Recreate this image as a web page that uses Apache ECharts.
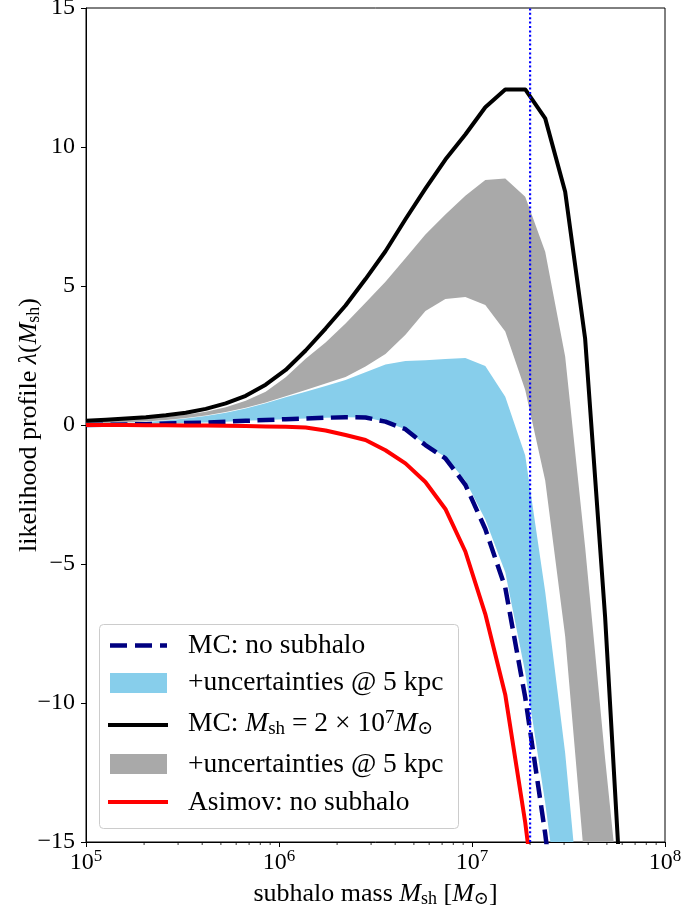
<!DOCTYPE html>
<html>
<head>
<meta charset="utf-8">
<title>likelihood profile</title>
<script src="https://cdn.jsdelivr.net/npm/echarts@6/dist/echarts.min.js"></script>
<style>
  html, body { margin: 0; padding: 0; background: #fff; overflow: hidden; }
  #chart { width: 683px; height: 915px; }
</style>
</head>
<body>
<div id="chart"></div>
<script>
// subhalo mass grid [M_sun]
var mass = [1.000e5, 1.269e5, 1.610e5, 2.043e5, 2.593e5, 3.290e5, 4.175e5, 5.298e5, 6.723e5, 8.531e5,
            1.083e6, 1.374e6, 1.743e6, 2.212e6, 2.807e6, 3.562e6, 4.520e6, 5.736e6, 7.279e6, 9.237e6,
            1.172e7, 1.487e7, 1.887e7, 2.395e7, 3.039e7, 3.857e7, 4.894e7, 6.210e7, 7.880e7, 1.000e8];

// MC: no subhalo (dashed) + band
var mcNoSub = [0, 0.01, 0.02, 0.03, 0.05, 0.07, 0.09, 0.12, 0.15, 0.18,
               0.21, 0.23, 0.26, 0.28, 0.27, 0.12, -0.15, -0.72, -1.2, -2.15,
               -3.74, -5.85, -9.8, -14.7, -20.5];
var mcNoSubLow = [0, 0.01, 0.02, 0.03, 0.05, 0.07, 0.09, 0.12, 0.15, 0.18,
                  0.21, 0.23, 0.26, 0.28, 0.27, 0.12, -0.15, -0.7, -1.15, -2.0,
                  -3.4, -5.3, -8.9, -13.6, -19, -25];
var mcNoSubHigh = [0.02, 0.04, 0.07, 0.11, 0.16, 0.23, 0.32, 0.44, 0.59, 0.78,
                   1.0, 1.2, 1.4, 1.62, 1.9, 2.18, 2.3, 2.33, 2.37, 2.41,
                   2.12, 1.02, -1.1, -6.0, -11.8, -19.5];

// MC: M_sh = 2e7 (black) + band
var mcSub = [0.15, 0.19, 0.23, 0.28, 0.35, 0.44, 0.58, 0.78, 1.05, 1.45,
             1.98, 2.68, 3.47, 4.3, 5.25, 6.25, 7.4, 8.5, 9.55, 10.45,
             11.43, 12.07, 12.07, 11.03, 8.39, 3.1, -6.9, -19.5];
var mcSubLow = [0.03, 0.06, 0.09, 0.13, 0.18, 0.25, 0.34, 0.47, 0.62, 0.81,
                1.03, 1.26, 1.49, 1.73, 2.1, 2.55, 3.25, 4.1, 4.53, 4.6,
                4.32, 3.36, 1.26, -2.0, -7.6, -16.0, -25, -30];
var mcSubHigh = [0.13, 0.16, 0.2, 0.24, 0.3, 0.37, 0.48, 0.64, 0.87, 1.2,
                 1.72, 2.38, 2.97, 3.65, 4.4, 5.15, 6.0, 6.85, 7.57, 8.25,
                 8.81, 8.87, 8.21, 6.23, 2.46, -4.4, -12.0, -19.0];

// Asimov: no subhalo (red)
var asimov = [0, 0, 0, -0.01, -0.01, -0.02, -0.02, -0.03, -0.04, -0.05,
              -0.06, -0.09, -0.2, -0.36, -0.54, -0.91, -1.38, -2.05, -3.02, -4.55,
              -6.8, -9.7, -14.3, -20];

var trueMass = 2e7;
var minorTicks = [2e5, 3e5, 4e5, 5e5, 6e5, 7e5, 8e5, 9e5,
                  2e6, 3e6, 4e6, 5e6, 6e6, 7e6, 8e6, 9e6,
                  2e7, 3e7, 4e7, 5e7, 6e7, 7e7, 8e7, 9e7];

var serif = '"Liberation Serif", "DejaVu Serif", serif';

function pairs(ys) {
  return ys.map(function(y, i) { return [mass[i], y]; });
}

var rich = {
  r: { fontFamily: serif, fontSize: 26, color: '#000' },
  i: { fontFamily: serif, fontSize: 26, fontStyle: 'italic', color: '#000' },
  s: { fontFamily: serif, fontSize: 18, color: '#000', padding: [10, 0, 0, 0] },
  p: { fontFamily: serif, fontSize: 18, color: '#000', padding: [0, 0, 12, 0] }
};
var legRich = {
  r: { fontFamily: serif, fontSize: 27.5, color: '#000' },
  i: { fontFamily: serif, fontSize: 27.5, fontStyle: 'italic', color: '#000' },
  s: { fontFamily: serif, fontSize: 19, color: '#000', padding: [10, 0, 0, 0] },
  p: { fontFamily: serif, fontSize: 19, color: '#000', padding: [0, 0, 12, 0] }
};

var myChart = echarts.init(document.getElementById('chart'));

// filled band between lo and hi, as one polygon through the axes
function band(lo, hi, color) {
  return {
    type: 'custom', silent: true, clip: true, z: 1,
    data: [[mass[0], lo[0]]],
    renderItem: function(params, api) {
      var pts = [];
      for (var i = 0; i < hi.length; i++) pts.push(api.coord([mass[i], hi[i]]));
      for (var j = lo.length - 1; j >= 0; j--) pts.push(api.coord([mass[j], lo[j]]));
      return { type: 'polygon', shape: { points: pts }, style: { fill: color, stroke: null } };
    }
  };
}

// legend, drawn by hand
var lx = 108, tx = 188;
var legendTexts = [
  { y: 646, text: '{r|MC: no subhalo}' },
  { y: 683, text: '{r|+uncertainties @ 5 kpc}' },
  { y: 724, text: '{r|MC: }{i|M}{s|sh}{r| = 2 × 10}{p|7}{i|M}{s|⊙}' },
  { y: 765, text: '{r|+uncertainties @ 5 kpc}' },
  { y: 803, text: '{r|Asimov: no subhalo}' }
];
var graphic = [
  { type: 'rect', shape: { x: 99.5, y: 624.5, width: 359, height: 204, r: 4 },
    style: { fill: 'rgba(255,255,255,0.8)', stroke: '#cccccc', lineWidth: 1 }, z: 10 },
  { type: 'line', shape: { x1: 110, y1: 645.5, x2: 167, y2: 645.5 },
    style: { stroke: '#000080', lineWidth: 4.5, lineDash: [17, 8] }, z: 11 },
  { type: 'rect', shape: { x: 110, y: 673, width: 57, height: 20 }, style: { fill: '#87ceeb' }, z: 11 },
  { type: 'line', shape: { x1: lx, y1: 725, x2: lx + 60, y2: 725 },
    style: { stroke: '#000', lineWidth: 4 }, z: 11 },
  { type: 'rect', shape: { x: 110, y: 754, width: 57, height: 20 }, style: { fill: '#a9a9a9' }, z: 11 },
  { type: 'line', shape: { x1: lx, y1: 802, x2: lx + 60, y2: 802 },
    style: { stroke: '#ff0000', lineWidth: 4 }, z: 11 }
];
legendTexts.forEach(function(t) {
  graphic.push({
    type: 'text', x: tx, y: t.y, z: 11,
    style: { text: t.text, rich: legRich, verticalAlign: 'middle', align: 'left' }
  });
});

var option = {
  animation: false,
  backgroundColor: '#fff',
  grid: {
    left: 86, right: 18, top: 8, bottom: 73, containLabel: false, outerBoundsMode: 'none',
    show: true, borderColor: '#000', borderWidth: 1
  },
  xAxis: {
    type: 'log', logBase: 10, min: 1e5, max: 1e8,
    axisLine: { show: true, onZero: false, lineStyle: { color: '#000', width: 1 } },
    axisTick: { show: true, length: 5, lineStyle: { color: '#000', width: 1 } },
    splitLine: { show: false },
    axisLabel: {
      margin: 6, showMinLabel: true, showMaxLabel: true,
      formatter: function(v) { return '{b|10}{e|' + Math.round(Math.log10(v)) + '}'; },
      rich: {
        b: { fontFamily: serif, fontSize: 24, color: '#000' },
        e: { fontFamily: serif, fontSize: 17, color: '#000', padding: [0, 0, 12, 0] }
      }
    },
    name: '{r|subhalo mass }{i|M}{s|sh}{r| [}{i|M}{s|⊙}{r|]}',
    nameLocation: 'middle', nameGap: 38, nameMoveOverlap: false,
    nameTextStyle: { rich: rich }
  },
  yAxis: {
    type: 'value', min: -15, max: 15, interval: 5,
    axisLine: { show: true, onZero: false, lineStyle: { color: '#000', width: 1 } },
    axisTick: { show: true, length: 5, lineStyle: { color: '#000', width: 1 } },
    splitLine: { show: false },
    axisLabel: {
      margin: 11, fontFamily: serif, fontSize: 24, color: '#000',
      formatter: function(v) { return String(v).replace('-', '\u2212'); }
    },
    name: '{r|likelihood profile }{i|λ}{r|(}{i|M}{s|sh}{r|)}',
    nameLocation: 'middle', nameGap: 43, nameRotate: 90, nameMoveOverlap: false,
    nameTextStyle: { rich: rich }
  },
  graphic: graphic,
  series: [
    band(mcNoSubLow, mcNoSubHigh, '#87ceeb'),
    band(mcSubLow, mcSubHigh, '#a9a9a9'),
    {
      type: 'line', name: 'MC: no subhalo', data: pairs(mcNoSub), symbol: 'none', z: 2,
      lineStyle: { color: '#000080', width: 4.5, type: [17, 7.5], cap: 'butt', join: 'round' }
    },
    {
      type: 'line', name: 'MC: subhalo', data: pairs(mcSub), symbol: 'none', z: 2,
      lineStyle: { color: '#000', width: 4, join: 'round' }
    },
    {
      type: 'line', name: 'Asimov: no subhalo', data: pairs(asimov), symbol: 'none', z: 2,
      lineStyle: { color: '#ff0000', width: 4, join: 'round' }
    },
    {
      type: 'line', data: [[trueMass, -15], [trueMass, 15]], symbol: 'none', z: 3, silent: true,
      lineStyle: { color: '#0000ff', width: 2.2, type: [2, 2.4] }
    },
    {
      type: 'custom', silent: true, z: 5,
      data: minorTicks.map(function(v) { return [v, -15]; }),
      renderItem: function(params, api) {
        var p = api.coord([api.value(0), api.value(1)]);
        return {
          type: 'line',
          shape: { x1: p[0], y1: p[1], x2: p[0], y2: p[1] + 3 },
          style: { stroke: '#000', lineWidth: 0.8 }
        };
      }
    }
  ]
};
myChart.setOption(option);
</script>
</body>
</html>
